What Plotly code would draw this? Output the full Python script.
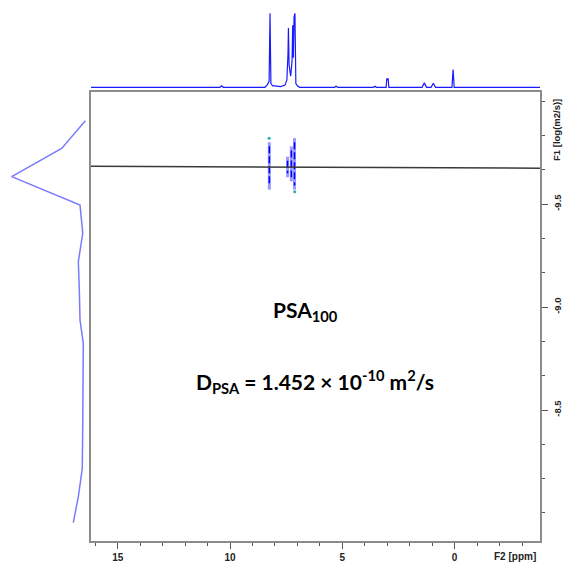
import plotly.graph_objects as go

W, H = 563, 564

# ---------------- data ----------------
# 1D projection on top (F2 chemical shift, ppm) : relative intensity
spec_ppm = [16.19, 10.45, 10.37, 10.30, 8.45, 8.35, 8.26, 8.22, 8.18, 8.10, 8.00, 7.75,
            7.55, 7.47, 7.42, 7.40, 7.37, 7.30, 7.24, 7.21, 7.18, 7.15, 7.11, 7.07,
            7.00, 6.90, 5.35, 5.28, 5.20, 3.62, 3.55, 3.48, 3.05, 3.02, 2.99, 2.96,
            2.93, 1.45, 1.35, 1.25, 1.05, 0.95, 0.85, 0.12, 0.07, 0.02, -3.80]
spec_int = [0.0, 0.0, 0.02, 0.0, 0.0, 0.03, 0.08, 1.0, 0.05, 0.02, 0.02, 0.01,
            0.03, 0.10, 0.45, 0.80, 0.30, 0.15, 0.35, 0.84, 0.40, 0.95, 1.0, 0.05,
            0.02, 0.0, 0.0, 0.015, 0.0, 0.0, 0.015, 0.0, 0.0, 0.12, 0.10, 0.12,
            0.0, 0.0, 0.06, 0.0, 0.0, 0.055, 0.0, 0.0, 0.24, 0.0, 0.0]

# diffusion projection on the left (F1, log(m2/s)) : relative intensity
proj_logd = [-9.904, -9.770, -9.633, -9.495, -9.358, -9.220, -9.083, -8.937,
             -8.824, -8.678, -8.435, -8.217, -8.079, -7.953]
proj_int = [0.035, 0.345, 1.0, 0.105, 0.069, 0.127, 0.114, 0.105,
            0.062, 0.062, 0.069, 0.075, 0.127, 0.193]

# DOSY contour columns: ppm, logD top, logD bottom
cont_ppm = [8.25, 7.44, 7.27, 7.13]
cont_top = [-9.80, -9.73, -9.78, -9.82]
cont_bot = [-9.57, -9.63, -9.61, -9.57]

# weak extra contour dots
dot_ppm = [8.26, 7.12]
dot_logd = [-9.82, -9.56]

# fitted diffusion line
ref_ppm = [16.19, -3.80]
ref_logd = [-9.684, -9.674]

x_ticks = [15, 10, 5, 0]
y_ticks = [-9.5, -9.0, -8.5]
y_ticktext = ["-9.5", "-9.0", "-8.5"]

# ---------------- figure ----------------
fig = go.Figure()

fig.add_trace(go.Scatter(x=spec_ppm, y=spec_int, mode="lines", xaxis="x3", yaxis="y3",
                         line=dict(color="#1a1aff", width=1.2), hoverinfo="skip"))

fig.add_trace(go.Scatter(x=proj_int, y=proj_logd, mode="lines", xaxis="x2", yaxis="y",
                         line=dict(color="#7a7aff", width=1.5), hoverinfo="skip"))

for p, t, b in zip(cont_ppm, cont_top, cont_bot):
    fig.add_trace(go.Scatter(x=[p, p], y=[t, b], mode="lines",
                             line=dict(color="#9a9aff", width=3), hoverinfo="skip"))
    fig.add_trace(go.Scatter(x=[p, p], y=[t + 0.02, b - 0.02], mode="lines",
                             line=dict(color="#0000ff", width=1.5, dash="7px,3px"),
                             hoverinfo="skip"))

fig.add_trace(go.Scatter(x=ref_ppm, y=ref_logd, mode="lines", xaxis="x", yaxis="y",
                         line=dict(color="#3a3a3a", width=1.5), hoverinfo="skip"))

fig.add_trace(go.Scatter(x=dot_ppm, y=dot_logd, mode="markers",
                         marker=dict(color="#20b0b0", size=3), hoverinfo="skip"))

tickfont = dict(family="Liberation Sans, Arial", size=10, color="#222222", weight="bold")
ytickfont = dict(family="Liberation Sans, Arial", size=9.5, color="#222222", weight="bold")
axis_line = "#8c8c8c"

xl, xr = 91 / W, 540 / W
yb, yt = (H - 541) / H, (H - 92) / H

fig.update_layout(
    width=W, height=H,
    margin=dict(l=0, r=0, t=0, b=0, autoexpand=False),
    paper_bgcolor="white", plot_bgcolor="white",
    showlegend=False,
    xaxis=dict(domain=[xl, xr], range=[16.19, -3.80], anchor="y", automargin=False,
               showline=True, mirror=True, linecolor=axis_line, linewidth=2,
               ticks="outside", tickvals=x_ticks, ticklen=6, tickwidth=1,
               tickcolor="#555555", tickfont=tickfont,
               minor=dict(ticks="outside", tick0=0, dtick=1, ticklen=3,
                          tickcolor="#555555", tickwidth=1, showgrid=False),
               showgrid=False, zeroline=False),
    yaxis=dict(domain=[yb, yt], range=[-7.864, -10.044], anchor="x", side="right",
               automargin=False,
               showline=True, mirror=True, linecolor=axis_line, linewidth=2,
               ticks="outside", tickvals=y_ticks, ticktext=y_ticktext, ticklen=6,
               tickwidth=1, tickcolor="#555555", tickfont=ytickfont, tickangle=-90,
               ticklabelstandoff=2,
               minor=dict(ticks="outside", tick0=-9.5, dtick=1 / 6, ticklen=3,
                          tickcolor="#555555", tickwidth=1, showgrid=False),
               showgrid=False, zeroline=False),
    xaxis2=dict(domain=[0, xl], range=[1.153, -0.039], anchor="y", visible=False),
    xaxis3=dict(domain=[xl, xr], range=[16.19, -3.80], anchor="y3", visible=False),
    yaxis3=dict(domain=[(H - 91) / H, (H - 9.6) / H], range=[-0.05, 1.05],
                anchor="x3", visible=False),
)

lab_font = dict(family="Liberation Sans, Arial", size=10, color="#222222", weight="bold")
f1_font = dict(family="Liberation Sans, Arial", size=9.5, color="#222222", weight="bold")
txt_font = dict(family="Lato, Carlito, sans-serif", size=21, color="black", weight="bold")

fig.add_annotation(x=515 / W, y=(H - 556) / H, xref="paper", yref="paper",
                   text="F2 [ppm]", showarrow=False, font=lab_font,
                   xanchor="center", yanchor="middle")
fig.add_annotation(x=556 / W, y=(H - 130) / H, xref="paper", yref="paper",
                   text="F1 [log(m2/s)]", showarrow=False, font=f1_font,
                   textangle=-90, xanchor="center", yanchor="middle")
fig.add_annotation(x=305 / W, y=(H - 311) / H, xref="paper", yref="paper",
                   text="PSA<sub>100</sub>", showarrow=False, font=txt_font,
                   xanchor="center", yanchor="middle")
fig.add_annotation(x=315 / W, y=(H - 382) / H, xref="paper", yref="paper",
                   text="D<sub>PSA</sub> = 1.452 × 10<sup>-10</sup> m<sup>2</sup>/s",
                   showarrow=False, font=txt_font, xanchor="center", yanchor="middle")

fig.write_html("out.html")
